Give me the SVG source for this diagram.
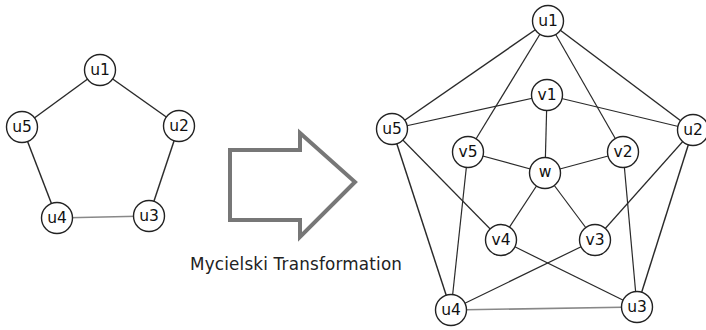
<svg xmlns="http://www.w3.org/2000/svg" width="706" height="330" viewBox="0 0 706 330">
<style>
.e{stroke:#2a2a2a;stroke-width:1.2;fill:none}
.o{stroke:#2a2a2a;stroke-width:1.45;fill:none}
.lt{stroke:#888;stroke-width:1.6;fill:none}
.n circle{fill:#fff;stroke:#222;stroke-width:1.4}
.n text{font-family:"DejaVu Sans",sans-serif;font-size:15.5px;fill:#111;text-anchor:middle;dominant-baseline:central}
</style>
<rect width="706" height="330" fill="#fff"/>
<g id="connectors">
<line class="o" x1="100" y1="70" x2="179" y2="126"/>
<line class="o" x1="179" y1="126" x2="149" y2="216"/>
<line class="lt" x1="149" y1="216" x2="57" y2="218"/>
<line class="o" x1="57" y1="218" x2="22" y2="127"/>
<line class="o" x1="22" y1="127" x2="100" y2="70"/>
<line class="o" x1="548" y1="21" x2="693" y2="130"/>
<line class="o" x1="693" y1="130" x2="637" y2="307"/>
<line class="lt" x1="637" y1="307" x2="451" y2="310"/>
<line class="o" x1="451" y1="310" x2="392" y2="129"/>
<line class="o" x1="392" y1="129" x2="548" y2="21"/>
<line class="e" x1="547" y1="95" x2="392" y2="129"/>
<line class="e" x1="547" y1="95" x2="693" y2="130"/>
<line class="e" x1="623" y1="152" x2="548" y2="21"/>
<line class="e" x1="623" y1="152" x2="637" y2="307"/>
<line class="e" x1="595" y1="240" x2="693" y2="130"/>
<line class="e" x1="595" y1="240" x2="451" y2="310"/>
<line class="e" x1="501" y1="240" x2="637" y2="307"/>
<line class="e" x1="501" y1="240" x2="392" y2="129"/>
<line class="e" x1="468" y1="152" x2="451" y2="310"/>
<line class="e" x1="468" y1="152" x2="548" y2="21"/>
<line class="e" x1="545" y1="173" x2="547" y2="95"/>
<line class="e" x1="545" y1="173" x2="623" y2="152"/>
<line class="e" x1="545" y1="173" x2="595" y2="240"/>
<line class="e" x1="545" y1="173" x2="501" y2="240"/>
<line class="e" x1="545" y1="173" x2="468" y2="152"/>
</g>
<g id="arrow">
<polygon points="230,150 300,150 300,133 355,182 300,237 300,220 230,220" fill="none" stroke="#777" stroke-width="4" stroke-linejoin="miter"/>
<text x="190" y="270" font-family="DejaVu Sans, sans-serif" font-size="16.8" fill="#222" textLength="212">Mycielski Transformation</text>
</g>
<g id="L_u1" class="n"><circle cx="100" cy="70" r="15.5"/><text x="100" y="70">u1</text></g>
<g id="L_u2" class="n"><circle cx="179" cy="126" r="15.5"/><text x="179" y="126">u2</text></g>
<g id="L_u3" class="n"><circle cx="149" cy="216" r="15.5"/><text x="149" y="216">u3</text></g>
<g id="L_u4" class="n"><circle cx="57" cy="218" r="15.5"/><text x="57" y="218">u4</text></g>
<g id="L_u5" class="n"><circle cx="22" cy="127" r="15.5"/><text x="22" y="127">u5</text></g>
<g id="R_u1" class="n"><circle cx="548" cy="21" r="15.5"/><text x="548" y="21">u1</text></g>
<g id="R_u2" class="n"><circle cx="693" cy="130" r="15.5"/><text x="693" y="130">u2</text></g>
<g id="R_u3" class="n"><circle cx="637" cy="307" r="15.5"/><text x="637" y="307">u3</text></g>
<g id="R_u4" class="n"><circle cx="451" cy="310" r="15.5"/><text x="451" y="310">u4</text></g>
<g id="R_u5" class="n"><circle cx="392" cy="129" r="15.5"/><text x="392" y="129">u5</text></g>
<g id="R_v1" class="n"><circle cx="547" cy="95" r="15.5"/><text x="547" y="95">v1</text></g>
<g id="R_v2" class="n"><circle cx="623" cy="152" r="15.5"/><text x="623" y="152">v2</text></g>
<g id="R_v3" class="n"><circle cx="595" cy="240" r="15.5"/><text x="595" y="240">v3</text></g>
<g id="R_v4" class="n"><circle cx="501" cy="240" r="15.5"/><text x="501" y="240">v4</text></g>
<g id="R_v5" class="n"><circle cx="468" cy="152" r="15.5"/><text x="468" y="152">v5</text></g>
<g id="R_w" class="n"><circle cx="545" cy="173" r="15.5"/><text x="545" y="172">w</text></g>
</svg>
